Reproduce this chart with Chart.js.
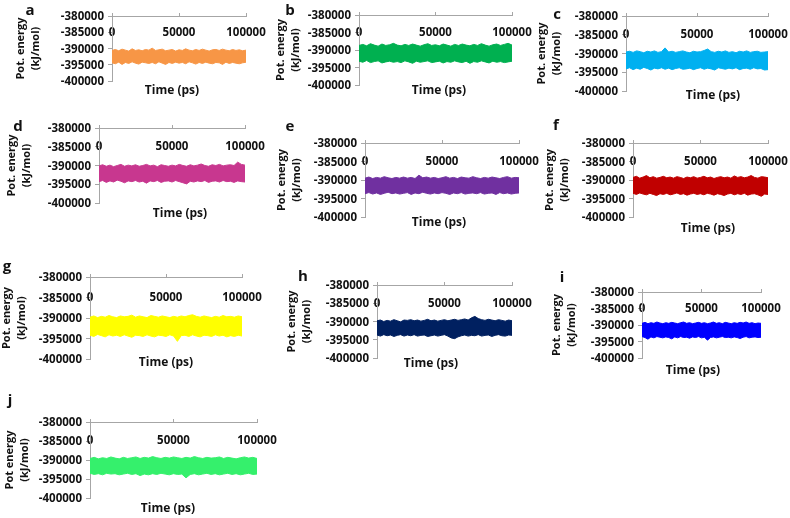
<!DOCTYPE html>
<html>
<head>
<title>Potential energy panels</title>
<script src="https://cdn.jsdelivr.net/npm/chart.js"></script>
<style>
  body { margin: 0; background: #fff; }
  #wrap { position: relative; width: 790px; height: 518px; overflow: hidden;
          font-family: 'Open Sans', sans-serif; font-weight: 700; color: #111; }
  #wrap canvas { position: absolute; }
  .letter { position: absolute; font-size: 15px; line-height: 1; transform: translate(-50%, -50%); }
  .xtitle { position: absolute; font-size: 12px; line-height: 1; white-space: nowrap; transform: translate(-50%, -50%); }
  .ytick { position: absolute; font-size: 11.5px; line-height: 1; white-space: nowrap; transform: translate(-100%, -50%); z-index: 2; }
</style>
</head>
<body>
<div id="wrap"></div>
<script>
// time (ps)
const time = [0, 2500, 5000, 7500, 10000, 12500, 15000, 17500, 20000, 22500,
  25000, 27500, 30000, 32500, 35000, 37500, 40000, 42500, 45000, 47500,
  50000, 52500, 55000, 57500, 60000, 62500, 65000, 67500, 70000, 72500,
  75000, 77500, 80000, 82500, 85000, 87500, 90000, 92500, 95000, 97500, 100000];

const xTicks = [0, 50000, 100000];
const yTicks = [-380000, -385000, -390000, -395000, -400000];

// upper / lower edge of each energy trace (kJ/mol)
const aHigh = [-390600,-390300,-390700,-390200,-390500,-390800,-390100,-390600,-390400,-390700,
  -390300,-390500,-389900,-390600,-390400,-390200,-390700,-390500,-390300,-390800,
  -390400,-390600,-390100,-390500,-390700,-390300,-390600,-390200,-390500,-390800,
  -390400,-390300,-390600,-390200,-390500,-390700,-390300,-390600,-390400,-390700,-390500];
const aLow = [-394400,-394700,-394200,-394900,-394300,-394600,-394100,-394500,-394800,-394200,
  -394400,-394600,-394300,-394700,-394100,-394500,-394900,-394300,-394600,-394200,
  -394500,-394300,-394700,-394100,-394400,-394800,-394300,-394600,-394200,-394500,
  -394700,-394300,-394400,-394900,-394200,-394600,-394300,-394500,-394700,-394400,-394200];

const bHigh = [-388700,-388400,-388800,-388200,-388600,-388900,-388300,-388700,-388500,-388100,
  -388600,-388800,-388400,-388700,-388300,-388600,-388900,-388500,-388200,-388700,
  -388500,-388800,-388300,-388600,-388900,-388400,-388700,-388300,-388600,-388800,
  -388400,-388700,-388200,-388600,-388900,-388500,-388300,-388700,-388400,-388100,-388600];
const bLow = [-393200,-393500,-393000,-393600,-393300,-393100,-393700,-393400,-393200,-393500,
  -393300,-393600,-393100,-393400,-393800,-393200,-393500,-393300,-393100,-393600,
  -393400,-393200,-393700,-393300,-393500,-393100,-393400,-393600,-393200,-393800,
  -393300,-393500,-393100,-393400,-393700,-393200,-393500,-393300,-393600,-393400,-393200];

const cHigh = [-389600,-389400,-389700,-389300,-389500,-389800,-389400,-389600,-389300,-389700,
  -389500,-388500,-389600,-389400,-389700,-389500,-389300,-389600,-389800,-389400,
  -389600,-389500,-389200,-388800,-389500,-389700,-389400,-389600,-389300,-389700,
  -389500,-389800,-389400,-389600,-389300,-389700,-389500,-389400,-389700,-389600,-389500];
const cLow = [-394100,-393800,-394300,-393900,-394200,-393700,-394000,-394400,-393900,-394100,
  -393800,-394200,-393900,-394300,-394000,-393800,-394200,-394100,-393900,-394300,
  -394000,-393800,-394200,-393900,-394100,-394400,-393800,-394000,-394200,-393900,
  -394100,-393800,-394300,-394000,-393900,-394200,-393800,-394100,-394000,-394400,-394300];

const dHigh = [-390100,-389800,-390200,-389900,-390300,-390000,-389700,-390200,-389900,-390100,
  -389800,-390200,-390000,-389700,-390100,-389900,-390300,-389800,-390000,-390200,
  -389900,-390100,-389700,-390000,-390200,-389800,-390100,-389900,-389600,-390000,
  -390200,-389800,-390000,-389700,-390100,-389900,-389800,-390000,-389100,-389700,-389900];
const dLow = [-394300,-394000,-394500,-394100,-394400,-393900,-394200,-394600,-394100,-394300,
  -394000,-394400,-394200,-394700,-394100,-394300,-394000,-394500,-394200,-394100,
  -394400,-394000,-394300,-394600,-394900,-394200,-394400,-394100,-394300,-394000,
  -394500,-394200,-394100,-394400,-394000,-394300,-394200,-394500,-394100,-394300,-394400];

const eHigh = [-389500,-389200,-389600,-389300,-389500,-389100,-389400,-389600,-389300,-389500,
  -389200,-389500,-389300,-389600,-388700,-389400,-389200,-389500,-389300,-389600,
  -389400,-389100,-389500,-389300,-389600,-389200,-389400,-389500,-389100,-389400,
  -389600,-389300,-389500,-389200,-389400,-389600,-389300,-389100,-389500,-389300,-389400];
const eLow = [-393700,-393400,-393800,-393500,-393900,-393600,-393300,-393700,-393500,-393800,
  -393600,-393400,-393900,-393500,-393700,-393300,-393600,-393800,-393500,-393700,
  -393400,-393600,-393900,-393500,-393700,-393400,-393800,-393600,-393500,-393700,
  -393400,-393800,-393600,-393500,-393900,-393400,-393700,-393500,-393800,-393600,-393500];

const fHigh = [-389300,-389000,-389500,-389200,-388800,-389400,-389100,-389500,-389300,-389000,
  -389400,-389200,-389500,-389100,-389300,-389600,-389200,-389400,-389100,-389500,
  -389300,-389000,-389400,-389200,-389600,-389300,-389100,-389400,-389200,-389500,
  -388900,-389300,-389100,-389400,-389200,-388800,-389300,-389500,-389100,-389200,-389400];
const fLow = [-393600,-393900,-393500,-393800,-394000,-393600,-393900,-394200,-393700,-393900,
  -393600,-394000,-393800,-393500,-393900,-393700,-394100,-393800,-393600,-393900,
  -393700,-394000,-393600,-393800,-394100,-393700,-393900,-394200,-393800,-393600,
  -394000,-393700,-393900,-393600,-394100,-393800,-393700,-394000,-394400,-393800,-393900];

const gHigh = [-389800,-389500,-389900,-389600,-389800,-389400,-389700,-389900,-389500,-389700,
  -389600,-389300,-389800,-389500,-389700,-389900,-389400,-389600,-389800,-389500,
  -389700,-389900,-389600,-389800,-389500,-389700,-389400,-389200,-389600,-389800,
  -389500,-389700,-389900,-389600,-389800,-389400,-389700,-389600,-389800,-389500,-389700];
const gLow = [-394200,-394500,-394000,-394300,-394600,-394100,-394400,-394200,-394500,-394100,
  -394400,-394700,-394200,-394300,-394500,-394100,-394400,-394600,-394200,-394300,
  -394500,-394100,-394400,-395700,-394300,-394200,-394500,-394100,-394400,-394600,
  -394200,-394300,-394500,-394100,-394400,-394200,-394600,-394300,-394500,-394200,-394400];

const hHigh = [-389800,-389600,-390000,-389700,-389900,-389500,-389800,-390100,-389600,-389700,
  -389500,-389800,-389600,-389900,-389700,-389400,-389800,-389600,-389900,-389700,
  -389500,-389800,-389600,-389400,-389700,-389500,-389300,-389600,-389000,-388600,
  -389200,-389500,-389700,-389400,-389600,-389800,-389500,-389700,-389900,-389600,-389800];
const hLow = [-393700,-394000,-393600,-393900,-393700,-394100,-393800,-393600,-394000,-393700,
  -393900,-393600,-394000,-393800,-393700,-394100,-393900,-393700,-394000,-393800,
  -393600,-394000,-394500,-394700,-394200,-393900,-393700,-394000,-393800,-393900,
  -393600,-394000,-393800,-393700,-394100,-393800,-393600,-393900,-394000,-393700,-393800];

const iHigh = [-389500,-389200,-389600,-389300,-389500,-389100,-389400,-389600,-389300,-389500,
  -389200,-389400,-389600,-389300,-389100,-389500,-389300,-389600,-389400,-389200,
  -389500,-389300,-389600,-389400,-389100,-389500,-389300,-389600,-389200,-389400,
  -389600,-389300,-389500,-389200,-389400,-389100,-389500,-389300,-389600,-389400,-389500];
const iLow = [-393500,-393800,-394300,-393600,-393900,-393500,-393700,-393900,-393600,-393800,
  -394200,-393600,-393900,-393500,-393800,-393700,-394000,-393600,-393800,-393500,
  -393900,-393700,-394600,-393800,-393600,-393900,-393700,-393500,-393800,-393700,
  -393900,-393600,-393800,-394100,-393700,-393500,-393900,-393700,-393600,-393800,-393700];

const jHigh = [-389600,-389300,-389700,-389400,-389600,-389200,-389500,-389700,-389300,-389600,
  -389400,-389200,-389600,-389300,-389500,-389100,-389400,-389600,-389300,-389500,
  -389200,-389400,-389600,-389300,-389500,-389100,-389400,-389600,-389300,-389500,
  -389400,-389200,-389600,-389300,-389500,-389700,-389400,-389200,-389500,-389300,-389600];
const jLow = [-393500,-393800,-393600,-393900,-393500,-393700,-393600,-393900,-393700,-393500,
  -393800,-393600,-394100,-393700,-393900,-393600,-393800,-393500,-393700,-393900,
  -393600,-393800,-393700,-394700,-393800,-393600,-393900,-393700,-393500,-393800,
  -393600,-393900,-393700,-393500,-393800,-393600,-393900,-393700,-393500,-393800,-393700];

const letters = ['a', 'b', 'c', 'd', 'e', 'f', 'g', 'h', 'i', 'j'];
const highs = [aHigh, bHigh, cHigh, dHigh, eHigh, fHigh, gHigh, hHigh, iHigh, jHigh];
const lows = [aLow, bLow, cLow, dLow, eLow, fLow, gLow, hLow, iLow, jLow];
const yTitles = ['Pot. energy', 'Pot. energy', 'Pot. energy', 'Pot. energy', 'Pot. energy',
  'Pot. energy', 'Pot. energy', 'Pot. energy', 'Pot. energy', 'Pot energy'];
const colors = ['#f79646', '#00b050', '#00b0f0', '#c8378f', '#7030a0',
  '#c00000', '#ffff00', '#002060', '#0000ff', '#35f06c'];

// page layout: plot box [left, top, right, bottom], y title x, letter centre, x title centre
const boxes = [
  { plot: [112, 16, 246, 81],  ytx: 21,  letter: [30, 9],    xt: [172, 90] },
  { plot: [359, 15, 512, 85],  ytx: 281, letter: [290, 9],   xt: [439, 90] },
  { plot: [626, 16, 768, 91],  ytx: 542, letter: [557, 13],  xt: [713, 95] },
  { plot: [99, 128, 245, 203], ytx: 12,  letter: [18, 125],  xt: [180, 213] },
  { plot: [365, 143, 519, 217], ytx: 282, letter: [290, 125], xt: [439, 222] },
  { plot: [633, 143, 768, 217], ytx: 550, letter: [556, 124], xt: [708, 228] },
  { plot: [90, 277, 242, 359], ytx: 7,   letter: [7, 265],   xt: [166, 362] },
  { plot: [377, 285, 512, 358], ytx: 292, letter: [303, 275], xt: [431, 363] },
  { plot: [642, 292, 761, 358], ytx: 557, letter: [562, 276], xt: [693, 370] },
  { plot: [90, 422, 257, 498], ytx: 10,  letter: [10, 399],  xt: [168, 508] }
];

Chart.defaults.font.family = "'Open Sans', sans-serif";
Chart.defaults.font.weight = 'bold';
Chart.defaults.color = '#111';

const axisColor = '#a6a6a6';
const wrap = document.getElementById('wrap');

function addText(cls, text, x, y) {
  const el = document.createElement('div');
  el.className = cls;
  el.textContent = text;
  el.style.left = x + 'px';
  el.style.top = y + 'px';
  wrap.appendChild(el);
}

letters.forEach((letter, k) => {
  const b = boxes[k];
  const [L, T, R, B] = b.plot;
  const left = b.ytx - 8;
  const top = T - 12;
  const gap = (B - T) / 4;

  const canvas = document.createElement('canvas');
  canvas.width = R - left + 45;
  canvas.height = B - T + 26;
  canvas.style.left = left + 'px';
  canvas.style.top = top + 'px';
  wrap.appendChild(canvas);

  addText('letter', letter, b.letter[0], b.letter[1]);
  addText('xtitle', 'Time (ps)', b.xt[0], b.xt[1]);

  const color = colors[k];
  const chart = new Chart(canvas.getContext('2d'), {
    type: 'line',
    data: {
      datasets: [{
        data: time.map((t, i) => ({ x: t, y: highs[k][i] })),
        borderColor: color,
        backgroundColor: color,
        borderWidth: 1,
        pointRadius: 0,
        fill: false
      }, {
        data: time.map((t, i) => ({ x: t, y: lows[k][i] })),
        borderColor: color,
        backgroundColor: color,
        borderWidth: 1,
        pointRadius: 0,
        fill: '-1'
      }]
    },
    options: {
      responsive: false,
      animation: false,
      events: [],
      layout: { padding: { left: 0, top: 12, right: 45, bottom: 14 } },
      plugins: { legend: { display: false }, tooltip: { enabled: false } },
      scales: {
        x: {
          type: 'linear',
          min: xTicks[0],
          max: xTicks[xTicks.length - 1],
          position: { y: yTicks[0] },
          afterBuildTicks: s => { s.ticks = xTicks.map(v => ({ value: v })); },
          ticks: {
            font: { size: 11.5 },
            padding: gap - 2.9,
            maxRotation: 0,
            autoSkip: false,
            callback: v => String(v)
          },
          grid: { drawOnChartArea: false, tickLength: -4, color: axisColor },
          border: { color: axisColor }
        },
        y: {
          min: yTicks[yTicks.length - 1],
          max: yTicks[0],
          afterBuildTicks: s => { s.ticks = yTicks.map(v => ({ value: v })); },
          afterFit: s => { s.width = L - left; },
          ticks: { display: false },
          grid: { drawOnChartArea: false, tickLength: 4, color: axisColor },
          border: { color: axisColor },
          title: {
            display: true,
            text: [yTitles[k], '(kJ/mol)'],
            font: { size: 11, lineHeight: 1.4 },
            padding: 0
          }
        }
      }
    }
  });

  // y tick labels placed from the chart's own y scale
  const ys = chart.scales.y;
  yTicks.forEach(v => addText('ytick', String(v), left + ys.right - 8, top + ys.getPixelForValue(v)));
});
</script>
</body>
</html>
